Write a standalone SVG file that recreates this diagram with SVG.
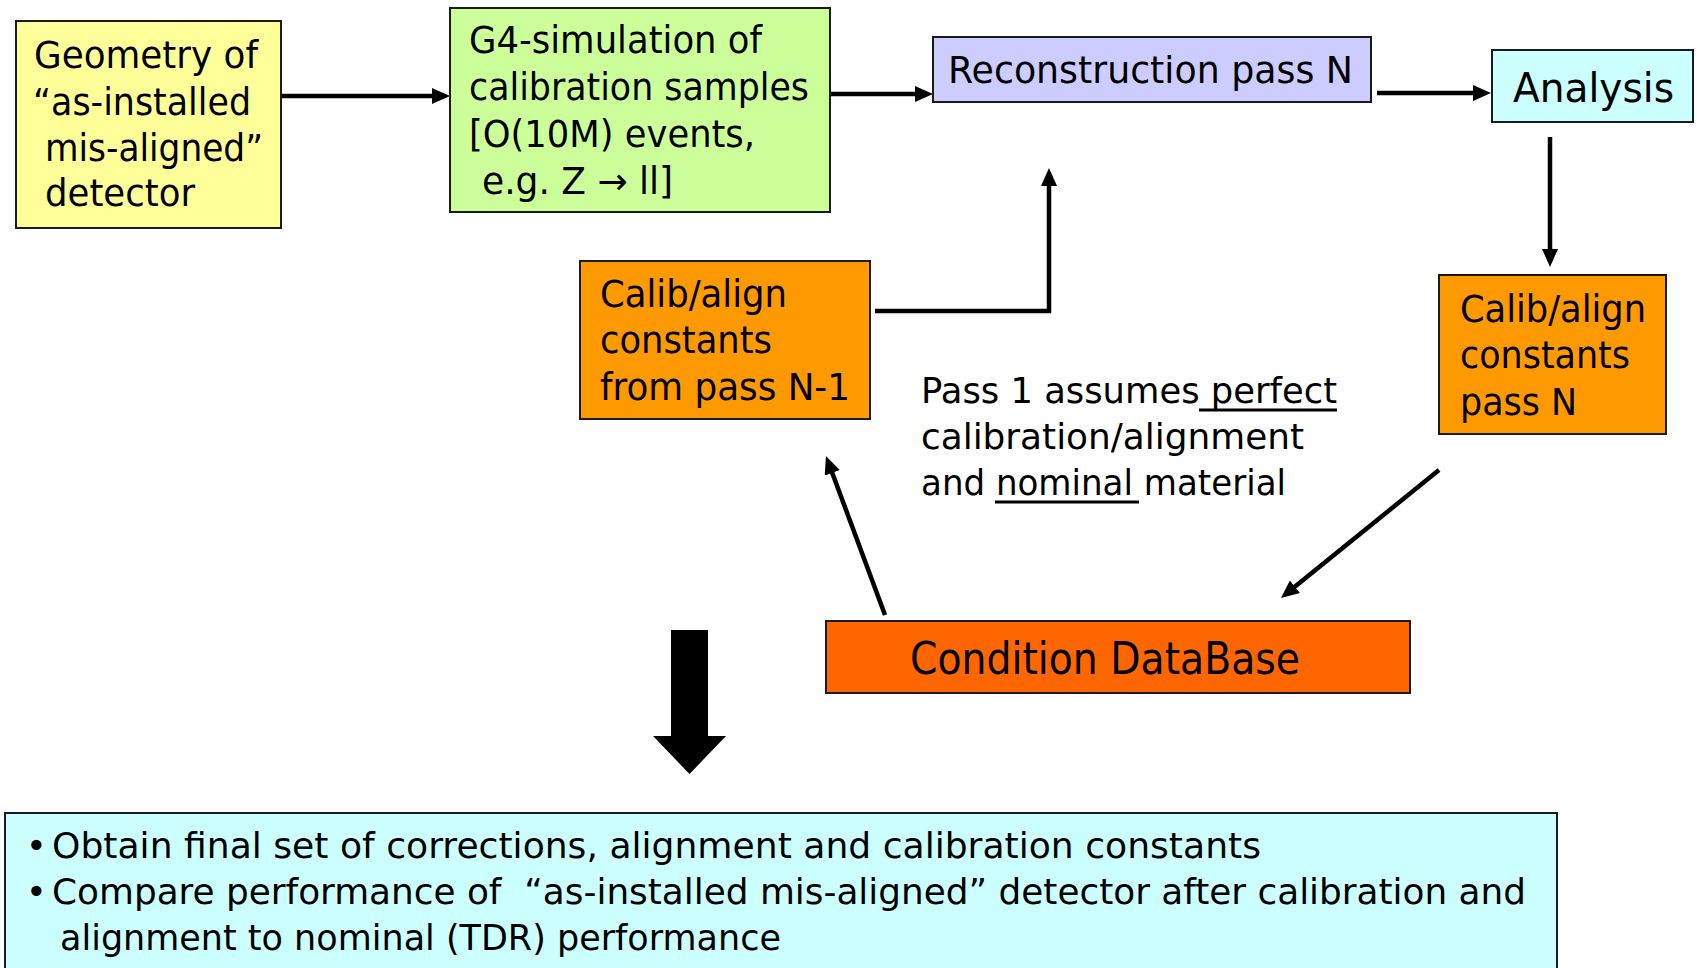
<svg xmlns="http://www.w3.org/2000/svg" width="1697" height="968" viewBox="0 0 1697 968">
  <style>
    .box { stroke: #1a1a1a; stroke-width: 2; }
    .t { font-family: "DejaVu Sans", "Liberation Sans", sans-serif; fill: #000; font-size: 37px; }
    .big { font-size: 38px; }
    .ana { font-size: 41px; }
    .db { font-size: 45px; }
    .note { font-size: 36px; }
    .foot { font-size: 35px; }
    .wire { stroke: #000; stroke-width: 4.5; fill: none; }
    .ul { stroke: #000; stroke-width: 3; }
  </style>
  <defs>
    <marker id="head" viewBox="0 0 18 16" markerUnits="userSpaceOnUse" markerWidth="18" markerHeight="16" refX="7" refY="8" orient="auto">
      <path d="M0,0 L18,8 L0,16 z" fill="#000"/>
    </marker>
  </defs>

  <!-- connectors -->
  <g id="connectors">
    <line class="wire" x1="281" y1="96" x2="439" y2="96" marker-end="url(#head)"/>
    <line class="wire" x1="830" y1="94" x2="922" y2="94" marker-end="url(#head)"/>
    <line class="wire" x1="1377" y1="93" x2="1480" y2="93" marker-end="url(#head)"/>
    <line class="wire" x1="1550" y1="137" x2="1550" y2="256" marker-end="url(#head)"/>
    <path class="wire" d="M875,311 H1049 V179" marker-end="url(#head)"/>
    <line class="wire" x1="885" y1="615" x2="829.8" y2="466.3" marker-end="url(#head)"/>
    <line class="wire" x1="1439" y1="470" x2="1289.5" y2="591.1" marker-end="url(#head)"/>
    <!-- heavy downward arrow to the summary -->
    <polygon points="671,630 708,630 708,736 726,736 689.5,774 653,736 671,736" fill="#000"/>
  </g>

  <g id="geometry">
    <rect class="box" x="16" y="21" width="265" height="207" fill="#FFFF99"/>
    <text class="t" x="34" y="68" textLength="224" lengthAdjust="spacingAndGlyphs">Geometry of</text>
    <text class="t" x="33" y="115" textLength="218" lengthAdjust="spacingAndGlyphs">“as-installed</text>
    <text class="t" x="45" y="161" textLength="218" lengthAdjust="spacingAndGlyphs">mis-aligned”</text>
    <text class="t" x="45" y="206" textLength="150" lengthAdjust="spacingAndGlyphs">detector</text>
  </g>

  <g id="g4sim">
    <rect class="box" x="450" y="8" width="380" height="204" fill="#CCFF99"/>
    <text class="t" x="469" y="53" textLength="293" lengthAdjust="spacingAndGlyphs">G4-simulation of</text>
    <text class="t" x="469" y="100" textLength="340" lengthAdjust="spacingAndGlyphs">calibration samples</text>
    <text class="t" x="469" y="147" textLength="286" lengthAdjust="spacingAndGlyphs">[O(10M) events,</text>
    <text class="t" x="482" y="194" textLength="191" lengthAdjust="spacingAndGlyphs">e.g. Z → ll]</text>
  </g>

  <g id="reconstruction">
    <rect class="box" x="933" y="37" width="438" height="65" fill="#CCCCFF"/>
    <text class="t big" x="948" y="83" textLength="405" lengthAdjust="spacingAndGlyphs">Reconstruction pass N</text>
  </g>

  <g id="analysis">
    <rect class="box" x="1492" y="50" width="201" height="72" fill="#CCFFFF"/>
    <text class="t ana" x="1513" y="102" textLength="161" lengthAdjust="spacingAndGlyphs">Analysis</text>
  </g>

  <g id="calib-prev">
    <rect class="box" x="580" y="261" width="290" height="158" fill="#FF9900"/>
    <text class="t" x="600" y="307" textLength="187" lengthAdjust="spacingAndGlyphs">Calib/align</text>
    <text class="t" x="600" y="353" textLength="172" lengthAdjust="spacingAndGlyphs">constants</text>
    <text class="t" x="600" y="400" textLength="250" lengthAdjust="spacingAndGlyphs">from pass N-1</text>
  </g>

  <g id="calib-n">
    <rect class="box" x="1439" y="275" width="227" height="159" fill="#FF9900"/>
    <text class="t" x="1460" y="322" textLength="186" lengthAdjust="spacingAndGlyphs">Calib/align</text>
    <text class="t" x="1460" y="368" textLength="170" lengthAdjust="spacingAndGlyphs">constants</text>
    <text class="t" x="1460" y="415" textLength="117" lengthAdjust="spacingAndGlyphs">pass N</text>
  </g>

  <g id="pass-note">
    <text class="t note" x="921" y="403" textLength="416" lengthAdjust="spacingAndGlyphs">Pass 1 assumes perfect</text>
    <line class="ul" x1="1199" y1="410" x2="1337" y2="410"/>
    <text class="t note" x="921" y="449" textLength="383" lengthAdjust="spacingAndGlyphs">calibration/alignment</text>
    <text class="t note" x="921" y="495" textLength="365" lengthAdjust="spacingAndGlyphs">and nominal material</text>
    <line class="ul" x1="995" y1="502" x2="1139" y2="502"/>
  </g>

  <g id="condition-db">
    <rect class="box" x="826" y="621" width="584" height="72" fill="#FF6600"/>
    <text class="t db" x="910" y="674" textLength="390" lengthAdjust="spacingAndGlyphs">Condition DataBase</text>
  </g>

  <g id="summary">
    <rect class="box" x="5" y="813" width="1552" height="200" fill="#CCFFFF"/>
    <text class="t foot" x="26" y="858" font-size="30px">•</text>
    <text class="t foot" x="52" y="858" textLength="1209" lengthAdjust="spacingAndGlyphs">Obtain final set of corrections, alignment and calibration constants</text>
    <text class="t foot" x="26" y="904" font-size="30px">•</text>
    <text class="t foot" x="52" y="904" textLength="1474" lengthAdjust="spacingAndGlyphs" xml:space="preserve">Compare performance of  “as-installed mis-aligned” detector after calibration and</text>
    <text class="t foot" x="60" y="950" textLength="721" lengthAdjust="spacingAndGlyphs">alignment to nominal (TDR) performance</text>
  </g>
</svg>
